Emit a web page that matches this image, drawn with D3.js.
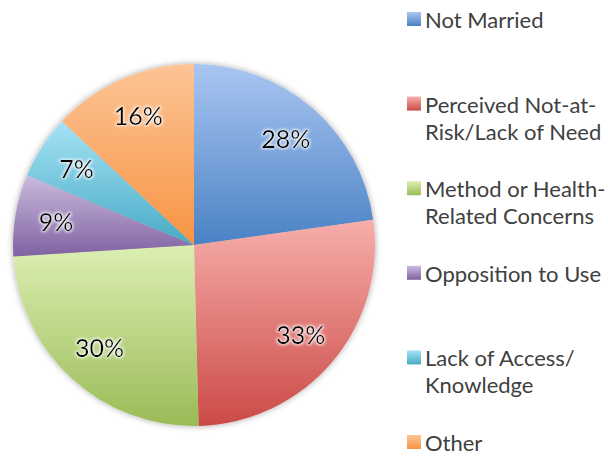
<!DOCTYPE html>
<html>
<head>
<meta charset="utf-8">
<script src="https://cdn.jsdelivr.net/npm/d3@7"></script>
<style>
    body { margin: 0; background: #fff; }
    text { font-family: Lato, "Open Sans", sans-serif; }
</style>
</head>
<body>
<div id="chart"></div>
<script>
(function() {
    // data (labels show these numbers, slices are sized by them)
    var categories = ["Not Married", "Perceived Not-at-Risk/Lack of Need", "Method or Health-Related Concerns",
        "Opposition to Use", "Lack of Access/Knowledge", "Other"];
    var legendLines = [["Not Married"], ["Perceived Not-at-", "Risk/Lack of Need"], ["Method or Health-", "Related Concerns"],
        ["Opposition to Use"], ["Lack of Access/", "Knowledge"], ["Other"]];
    var values = [28, 33, 30, 9, 7, 16];
    var colorsTop = ["#aac6f2", "#f7aeab", "#dcefb3", "#cbbbde", "#a6e3f6", "#fdc495"];
    var colorsBottom = ["#4a82c4", "#cb4a46", "#9abb57", "#7f62a1", "#47aac4", "#f79443"];

    var width = 608, height = 456;
    var cx = 194, cy = 245, radius = 181;

    var svg = d3.select("#chart")
        .append("svg")
        .attr("width", width)
        .attr("height", height);

    var defs = svg.append("defs");

    categories.forEach(function(c, i) {
        var g = defs.append("linearGradient")
            .attr("id", "grad" + i)
            .attr("x1", 0).attr("y1", 0)
            .attr("x2", 0).attr("y2", 1);
        g.append("stop").attr("offset", "0%").attr("stop-color", colorsTop[i]);
        g.append("stop").attr("offset", "100%").attr("stop-color", colorsBottom[i]);
    });

    var shadow = defs.append("filter").attr("id", "shadow")
        .attr("x", "-10%").attr("y", "-10%").attr("width", "120%").attr("height", "120%");
    shadow.append("feGaussianBlur").attr("in", "SourceAlpha").attr("stdDeviation", 3).attr("result", "blur");
    shadow.append("feFlood").attr("flood-color", "#000").attr("flood-opacity", 0.35);
    shadow.append("feComposite").attr("in2", "blur").attr("operator", "in").attr("result", "sh");
    var merge = shadow.append("feMerge");
    merge.append("feMergeNode").attr("in", "sh");
    merge.append("feMergeNode").attr("in", "SourceGraphic");

    var glow = defs.append("filter").attr("id", "glow")
        .attr("x", "-20%").attr("y", "-20%").attr("width", "140%").attr("height", "140%");
    glow.append("feMorphology").attr("in", "SourceAlpha").attr("operator", "dilate").attr("radius", 1).attr("result", "d");
    glow.append("feGaussianBlur").attr("in", "d").attr("stdDeviation", 1.5).attr("result", "b");
    glow.append("feFlood").attr("flood-color", "#fff").attr("flood-opacity", 0.8);
    glow.append("feComposite").attr("in2", "b").attr("operator", "in").attr("result", "w");
    var gm = glow.append("feMerge");
    gm.append("feMergeNode").attr("in", "w");
    gm.append("feMergeNode").attr("in", "SourceGraphic");

    var pie = d3.pie().sort(null).value(d => d);
    var arcs = pie(values);

    var arc = d3.arc().innerRadius(0).outerRadius(radius);
    var labelArc = d3.arc().innerRadius(140).outerRadius(140);

    var g = svg.append("g")
        .attr("transform", "translate(" + cx + "," + cy + ")");

    g.append("g")
        .attr("filter", "url(#shadow)")
        .selectAll("path")
        .data(arcs)
        .enter().append("path")
        .attr("d", arc)
        .style("fill", (d, i) => "url(#grad" + i + ")");

    g.selectAll(".label")
        .data(arcs)
        .enter().append("text")
        .attr("class", "label")
        .attr("transform", d => "translate(" + labelArc.centroid(d) + ")")
        .attr("text-anchor", "middle")
        .attr("dy", "0.35em")
        .attr("filter", "url(#glow)")
        .style("font-size", "25px")
        .style("fill", "#000")
        .text(d => d.data + "%");

    // legend
    var legend = svg.append("g").attr("transform", "translate(407,0)");
    var item = legend.selectAll(".item")
        .data(categories)
        .enter().append("g")
        .attr("class", "item")
        .attr("transform", (d, i) => "translate(0," + (12 + i * 84.6) + ")");

    item.append("rect")
        .attr("width", 14)
        .attr("height", 14)
        .style("fill", (d, i) => "url(#grad" + i + ")");

    item.append("text")
        .attr("x", 18)
        .attr("y", 16)
        .style("font-size", "22px")
        .style("fill", "#404040")
        .selectAll("tspan")
        .data((d, i) => legendLines[i])
        .enter().append("tspan")
        .attr("x", 18)
        .attr("dy", (d, j) => j === 0 ? 0 : 27)
        .text(d => d);
})();
</script>
</body>
</html>
